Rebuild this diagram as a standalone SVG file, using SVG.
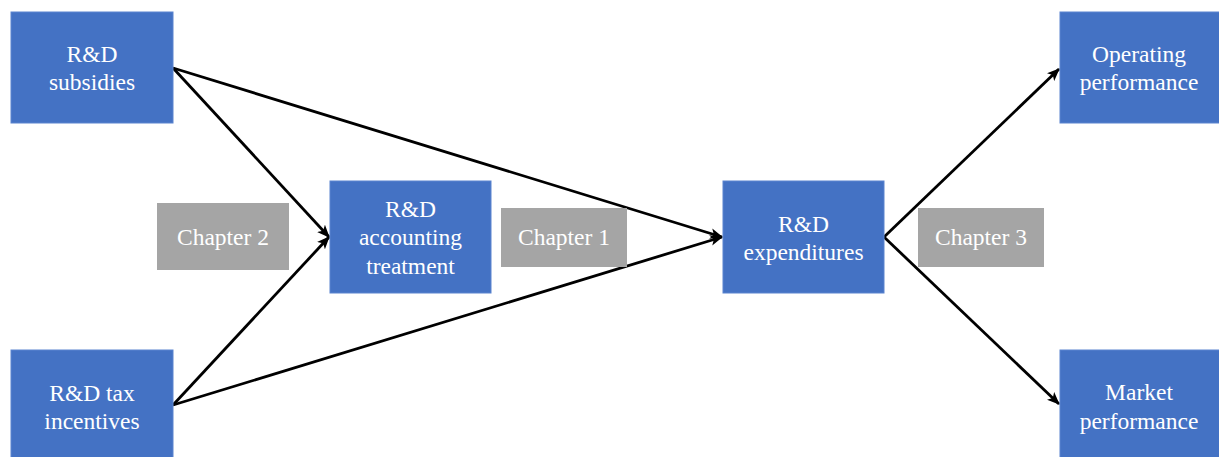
<svg xmlns="http://www.w3.org/2000/svg" width="1219" height="457" viewBox="0 0 1219 457">
  <style>
    .box { fill: #4472C4; stroke: #5A84CF; stroke-width: 1; }
    .chap { fill: #A5A5A5; }
    .lbl { font-family: "Liberation Serif", "Times New Roman", serif; font-size: 23.5px; fill: #FFFFFF; text-anchor: middle; }
    .edge { stroke: #000000; stroke-width: 2.8; fill: none; marker-end: url(#arrow); }
  </style>
  <defs>
    <marker id="arrow" viewBox="0 0 12 10" refX="11" refY="5" markerWidth="4.6" markerHeight="3.9" markerUnits="strokeWidth" orient="auto">
      <path d="M0,0 L12,5 L0,10 L3,5 Z" fill="#000000"/>
    </marker>
  </defs>
  <rect width="1219" height="457" fill="#FFFFFF"/>

  <g id="connectors">
    <line class="edge" x1="173" y1="68" x2="329" y2="237"/>
    <line class="edge" x1="173" y1="405" x2="329" y2="237"/>
    <line class="edge" x1="173" y1="68" x2="722" y2="237"/>
    <line class="edge" x1="173" y1="405" x2="722" y2="237"/>
    <line class="edge" x1="884" y1="237" x2="1059" y2="69"/>
    <line class="edge" x1="884" y1="237" x2="1059" y2="404"/>
  </g>

  <g id="rd-subsidies">
    <rect class="box" x="11" y="12" width="162" height="111"/>
    <text class="lbl" x="92" y="62">R&amp;D</text>
    <text class="lbl" x="92" y="90">subsidies</text>
  </g>

  <g id="rd-tax-incentives">
    <rect class="box" x="11" y="350" width="162" height="112"/>
    <text class="lbl" x="92" y="401">R&amp;D tax</text>
    <text class="lbl" x="92" y="429">incentives</text>
  </g>

  <g id="chapter-2">
    <rect class="chap" x="157" y="203" width="132" height="67"/>
    <text class="lbl" x="223" y="245">Chapter 2</text>
  </g>

  <g id="rd-accounting-treatment">
    <rect class="box" x="330" y="181" width="161" height="112"/>
    <text class="lbl" x="410.5" y="217">R&amp;D</text>
    <text class="lbl" x="410.5" y="245">accounting</text>
    <text class="lbl" x="410.5" y="274">treatment</text>
  </g>

  <g id="chapter-1">
    <rect class="chap" x="501" y="208" width="126" height="59"/>
    <text class="lbl" x="564" y="245">Chapter 1</text>
  </g>

  <g id="rd-expenditures">
    <rect class="box" x="723" y="181" width="161" height="112"/>
    <text class="lbl" x="803.5" y="232">R&amp;D</text>
    <text class="lbl" x="803.5" y="260">expenditures</text>
  </g>

  <g id="chapter-3">
    <rect class="chap" x="918" y="208" width="126" height="59"/>
    <text class="lbl" x="981" y="245">Chapter 3</text>
  </g>

  <g id="operating-performance">
    <rect class="box" x="1060" y="12" width="160" height="111"/>
    <text class="lbl" x="1139" y="62">Operating</text>
    <text class="lbl" x="1139" y="90">performance</text>
  </g>

  <g id="market-performance">
    <rect class="box" x="1060" y="350" width="160" height="112"/>
    <text class="lbl" x="1139" y="400">Market</text>
    <text class="lbl" x="1139" y="429">performance</text>
  </g>
</svg>
